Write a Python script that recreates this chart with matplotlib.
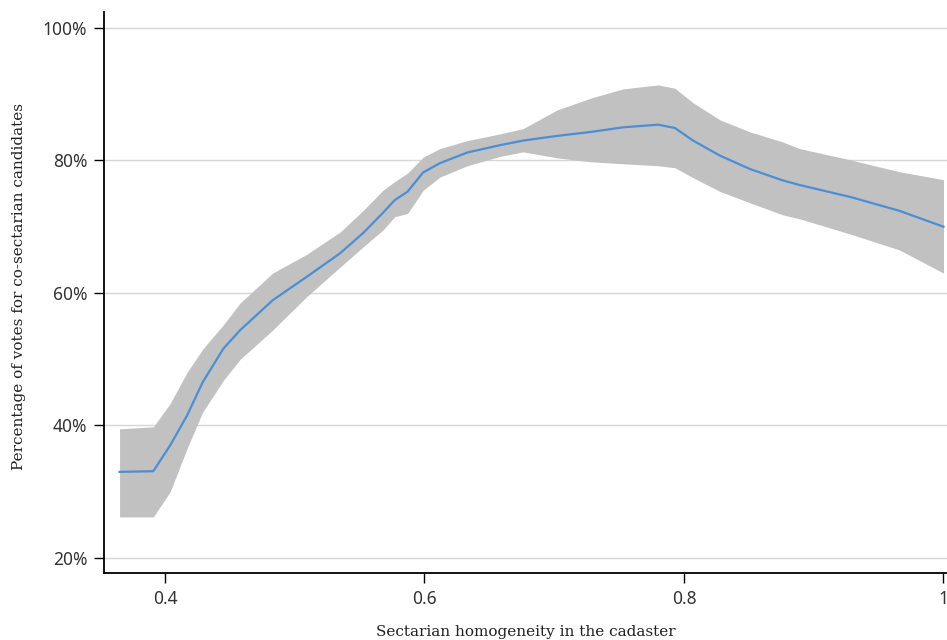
import matplotlib
matplotlib.use("Agg")
import matplotlib.pyplot as plt
from matplotlib.ticker import FuncFormatter

# homogeneity grid and fitted share of co-sectarian votes (%)
homogeneity = [0.365, 0.391, 0.404, 0.417, 0.429, 0.445, 0.458, 0.483, 0.509, 0.535,
               0.553, 0.568, 0.577, 0.587, 0.599, 0.612, 0.633, 0.658, 0.676, 0.702,
               0.728, 0.753, 0.780, 0.793, 0.807, 0.828, 0.851, 0.876, 0.889, 0.928,
               0.966, 1.0]
fit = [33.0, 33.1, 37.0, 41.5, 46.5, 51.6, 54.4, 58.9, 62.4, 66.0,
       69.1, 72.1, 74.0, 75.3, 78.2, 79.6, 81.2, 82.3, 83.0, 83.7,
       84.3, 85.0, 85.4, 84.9, 83.0, 80.7, 78.7, 77.0, 76.3, 74.5,
       72.4, 70.0]
upper = [39.5, 39.8, 43.3, 48.0, 51.5, 55.2, 58.5, 63.0, 65.8, 69.2,
         72.5, 75.5, 76.8, 78.1, 80.5, 81.8, 83.0, 84.0, 84.8, 87.6,
         89.4, 90.8, 91.4, 90.9, 88.7, 86.1, 84.3, 82.8, 81.8, 80.1,
         78.3, 77.1]
lower = [26.2, 26.2, 30.0, 36.5, 42.0, 46.8, 50.0, 54.4, 59.4, 63.9,
         67.0, 69.5, 71.5, 72.0, 75.5, 77.5, 79.2, 80.6, 81.3, 80.4,
         79.8, 79.5, 79.2, 78.9, 77.4, 75.3, 73.6, 71.8, 71.2, 68.9,
         66.5, 63.0]

x_ticks = [0.4, 0.6, 0.8, 1.0]
y_ticks = [20, 40, 60, 80, 100]

fig = plt.figure(figsize=(9.47, 6.40), dpi=100)
ax = fig.add_axes([0.1098, 0.1047, 0.8902, 0.8765])

ax.fill_between(homogeneity, lower, upper, color="#c1c1c1", linewidth=0, zorder=2)
ax.plot(homogeneity, fit, color="#4a8fd6", linewidth=1.6, zorder=3)

ax.set_xlim(0.353, 1.0027)
ax.set_ylim(17.74, 102.4)
ax.set_xticks(x_ticks)
ax.set_yticks(y_ticks)
ax.xaxis.set_major_formatter(FuncFormatter(lambda v, _: "1" if v == 1 else f"{v:.1f}"))
ax.yaxis.set_major_formatter(FuncFormatter(lambda v, _: f"{v:.0f}%"))

ax.grid(axis="y", color="#d6d6d6", linewidth=1.0, zorder=1)
ax.set_axisbelow(True)
for side in ["top", "right"]:
    ax.spines[side].set_visible(False)
for side in ["left", "bottom"]:
    ax.spines[side].set_linewidth(1.3)
    ax.spines[side].set_color("black")

ax.tick_params(direction="out", length=7, width=1, color="black",
               labelsize=12.5, labelcolor="#333333", pad=5)
for lbl in ax.get_xticklabels() + ax.get_yticklabels():
    lbl.set_family("Noto Sans")

ax.set_xlabel("Sectarian homogeneity in the cadaster", family="DejaVu Serif",
              fontsize=11, color="#222222", labelpad=12.5)
ax.set_ylabel("Percentage of votes for co-sectarian candidates", family="DejaVu Serif",
              fontsize=11, color="#222222", labelpad=12)
ax.yaxis.label.set_y(0.51)

fig.savefig("out.png", dpi=100)
